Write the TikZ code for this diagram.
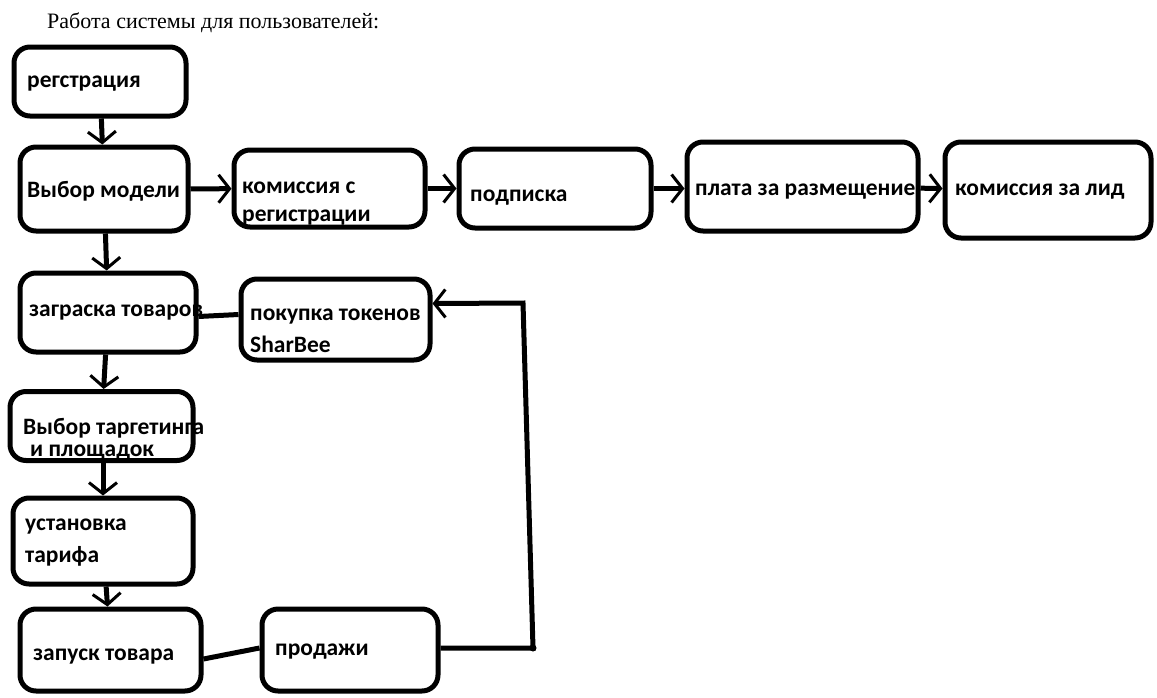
\documentclass[tikz,border=0pt]{standalone}
\usepackage{fontspec}
\setmainfont{Liberation Serif}
\newfontfamily\boxfont{Carlito}
\usetikzlibrary{arrows.meta}

\tikzset{
  box/.style={draw, line width=5pt, rounded corners=16pt, inner sep=0pt},
  lbl/.style={font=\boxfont\bfseries\fontsize{23.5}{28}\selectfont, inner sep=0pt, anchor=base west, align=left},
  flow/.style={line width=5pt, -{Straight Barb[length=11pt,width=28pt,line width=3pt]}},
  link/.style={line width=5pt},
}

\begin{document}
\begin{tikzpicture}[x=1pt, y=-1pt]
    \useasboundingbox (0,0) rectangle (1157,697);

    % Title
    \node[font=\fontsize{22}{26}\selectfont, anchor=base west, inner sep=0pt] at (47, 28) (title) {Работа системы для пользователей:};

    % Boxes
    \node[box, minimum width=172pt, minimum height=69pt] at (100, 81.5)  (reg)    {};
    \node[box, minimum width=168pt, minimum height=84pt] at (104, 189)  (model)  {};
    \node[box, minimum width=191pt, minimum height=77pt] at (329.5, 188.5)  (komreg) {};
    \node[box, minimum width=192pt, minimum height=79pt] at (555, 188.5)  (podp)   {};
    \node[box, minimum width=231pt, minimum height=89pt] at (802.5, 186.5)  (plata)  {};
    \node[box, minimum width=206pt, minimum height=96pt] at (1048, 190)  (lid)    {};
    \node[box, minimum width=176pt, minimum height=79pt] at (108, 312.5)  (zagr)   {};
    \node[box, minimum width=189pt, minimum height=81pt] at (335.5, 319.5)  (pokup)  {};
    \node[box, minimum width=183pt, minimum height=69pt] at (101.5, 426)  (target) {};
    \node[box, minimum width=180pt, minimum height=86pt] at (103, 541)  (ustan)  {};
    \node[box, minimum width=181pt, minimum height=82pt] at (110.5, 650)  (zapusk) {};
    \node[box, minimum width=176pt, minimum height=82pt] at (350, 650)  (prod)   {};

    % Labels (base of the last line)
    \node[lbl] at (27, 87)   (reg-t)    {регстрация};
    \node[lbl] at (27, 197)  (model-t)  {Выбор модели};
    \node[lbl] at (242, 221) (komreg-t) {комиссия с\\регистрации};
    \node[lbl] at (470, 201) (podp-t)   {подписка};
    \node[lbl] at (695, 195) (plata-t)  {плата за размещение};
    \node[lbl] at (955, 195) (lid-t)    {комиссия за лид};
    \node[lbl] at (29, 316)  (zagr-t)   {заграска товаров};
    \node[lbl] at (250, 352) (pokup-t)  {покупка токенов\\[4pt]SharBee};
    \node[lbl] at (23, 456)  (target-t) {Выбор таргетинга\\[-6pt]\hspace*{7pt}и площадок};
    \node[lbl] at (25, 562)  (ustan-t)  {установка\\[4pt]тарифа};
    \node[lbl] at (33, 660)  (zapusk-t) {запуск товара};
    \node[lbl] at (275, 655) (prod-t)   {продажи};

    % Return line
    \coordinate (turn) at (533, 648);
    \coordinate (top)  at (523, 303);

    \draw[flow] (reg) edge (model);
    \draw[flow] (model) edge (komreg);
    \draw[flow] (komreg) edge (podp);
    \draw[flow] (podp.east) -- (plata.west |- podp.east);
    \draw[flow] (plata) edge (lid);

    \draw[flow] (model) edge (zagr);
    \draw[link] ([yshift=-4pt]zagr.east) -- ([yshift=5pt]pokup.west);
    \draw[flow] (zagr) edge (target);
    \draw[flow] (target.south -| ustan.north) -- (ustan.north);
    \draw[flow] (ustan) edge (zapusk);

    \draw[link] ([yshift=-9pt]zapusk.east) -- ([yshift=2pt]prod.west);
    \draw[flow] ([yshift=2pt]prod.east) -- (turn) -- (top) -- ([yshift=16pt]pokup.east);
    \fill (turn) circle (3.5pt);
\end{tikzpicture}
\end{document}
